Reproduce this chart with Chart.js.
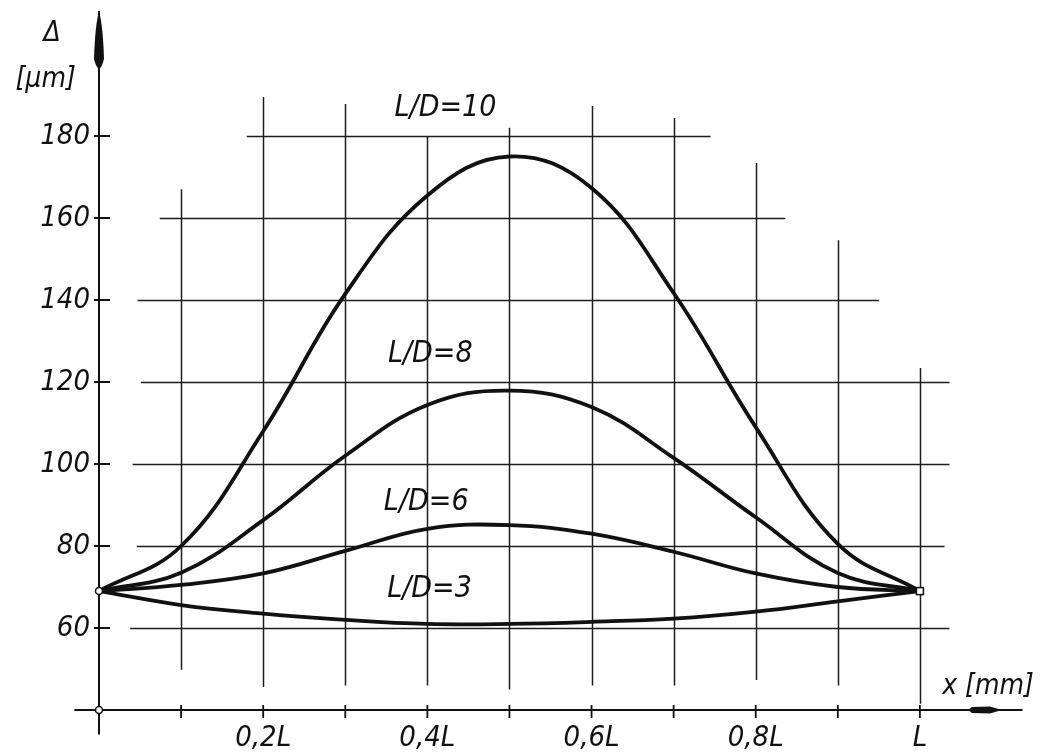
<!DOCTYPE html>
<html>
<head>
<meta charset="utf-8">
<title>Deflection vs position for several L/D</title>
<script src="https://cdn.jsdelivr.net/npm/chart.js@4.4.1/dist/chart.umd.min.js"></script>
<style>
  html, body { margin: 0; padding: 0; background: #fff; }
  canvas { display: block; }
</style>
</head>
<body>
<canvas id="chart" width="1041" height="754"></canvas>
<script>
// positions along the part, in fractions of L
const xPos = [0, 0.1, 0.2, 0.3, 0.4, 0.5, 0.6, 0.7, 0.8, 0.9, 1.0];

// deflection in µm
const ld10 = [69, 80, 108, 141.5, 165.5, 175, 167.3, 141.7, 109, 80.5, 69];
const ld8  = [69, 73.5, 86.3, 102, 114.4, 117.9, 113.9, 101.5, 87, 73.4, 69];
const ld6  = [69, 70.5, 73.3, 78.8, 84.2, 85.1, 83, 78.6, 73.3, 70, 69];
const ld3  = [69, 65.6, 63.5, 62, 61, 61, 61.5, 62.3, 64, 66.5, 69];

const seriesNames = ['L/D=10', 'L/D=8', 'L/D=6', 'L/D=3'];
const yTickValues = [60, 80, 100, 120, 140, 160, 180];
const xTickLabels = ['', '', '0,2L', '', '0,4L', '', '0,6L', '', '0,8L', '', 'L'];

const FONT = '"DejaVu Sans Condensed", "DejaVu Sans", sans-serif';
const INK = '#111';

function toPoints(vals) {
  return xPos.map((x, i) => ({ x: x, y: vals[i] }));
}

// hand drawn grid: each line only runs part of the way
const hGrid = [
  { at: 180, from: 0.18, to: 0.745 },
  { at: 160, from: 0.074, to: 0.836 },
  { at: 140, from: 0.047, to: 0.95 },
  { at: 120, from: 0.051, to: 1.036 },
  { at: 100, from: 0.041, to: 1.036 },
  { at: 80, from: 0.046, to: 1.03 },
  { at: 60, from: 0.038, to: 1.036 }
];
const vGrid = [
  { at: 0.1, from: 49.8, to: 167 },
  { at: 0.2, from: 45.6, to: 189.5 },
  { at: 0.3, from: 46, to: 187.8 },
  { at: 0.4, from: 46, to: 180 },
  { at: 0.5, from: 45, to: 182 },
  { at: 0.6, from: 46, to: 187.3 },
  { at: 0.7, from: 46, to: 184.4 },
  { at: 0.8, from: 47.3, to: 173.4 },
  { at: 0.9, from: 46, to: 154.6 },
  { at: 1.0, from: 41.5, to: 123.4 }
];

const sketch = {
  id: 'sketch',
  beforeDatasetsDraw(chart) {
    const { ctx, scales: { x, y } } = chart;
    ctx.save();
    ctx.strokeStyle = '#1c1c1c';
    ctx.lineWidth = 1.5;
    hGrid.forEach(g => {
      const py = Math.round(y.getPixelForValue(g.at)) + 0.5;
      ctx.beginPath();
      ctx.moveTo(x.getPixelForValue(g.from), py);
      ctx.lineTo(x.getPixelForValue(g.to), py);
      ctx.stroke();
    });
    vGrid.forEach(g => {
      const px = Math.round(x.getPixelForValue(g.at)) + 0.5;
      ctx.beginPath();
      ctx.moveTo(px, y.getPixelForValue(g.from));
      ctx.lineTo(px, y.getPixelForValue(g.to));
      ctx.stroke();
    });
    ctx.restore();
  },
  afterDraw(chart) {
    const { ctx, scales: { x, y } } = chart;
    const x0 = x.getPixelForValue(0);
    const y0 = y.getPixelForValue(40);
    ctx.save();
    ctx.strokeStyle = INK;
    ctx.fillStyle = INK;

    // axes
    ctx.lineWidth = 2;
    ctx.beginPath();
    ctx.moveTo(x0, y.getPixelForValue(34));
    ctx.lineTo(x0, y.getPixelForValue(210.5));
    ctx.moveTo(x.getPixelForValue(-0.03), y0);
    ctx.lineTo(x.getPixelForValue(1.125), y0);
    ctx.stroke();

    // arrow heads (long thin spindles, like the drawing)
    const yTop = y.getPixelForValue(210.5);
    ctx.beginPath();
    ctx.moveTo(x0, yTop);
    ctx.quadraticCurveTo(x0 + 4, yTop + 15, x0 + 5, yTop + 48);
    ctx.quadraticCurveTo(x0 + 3, yTop + 56, x0, yTop + 58);
    ctx.quadraticCurveTo(x0 - 3, yTop + 56, x0 - 5, yTop + 48);
    ctx.quadraticCurveTo(x0 - 4, yTop + 15, x0, yTop);
    ctx.fill();
    const xEnd = x.getPixelForValue(1.1);
    ctx.beginPath();
    ctx.moveTo(xEnd, y0);
    ctx.lineTo(xEnd - 12, y0 - 3.5);
    ctx.lineTo(xEnd - 30, y0 - 3);
    ctx.lineTo(xEnd - 34, y0);
    ctx.lineTo(xEnd - 30, y0 + 3);
    ctx.lineTo(xEnd - 12, y0 + 3.5);
    ctx.closePath();
    ctx.fill();

    // tick marks crossing the axes
    ctx.lineWidth = 1.8;
    ctx.beginPath();
    yTickValues.forEach(v => {
      const py = y.getPixelForValue(v);
      ctx.moveTo(x0 - 5, py);
      ctx.lineTo(x0 + 11, py);
    });
    xPos.slice(1).forEach(v => {
      const px = x.getPixelForValue(v);
      ctx.moveTo(px, y0 - 5);
      ctx.lineTo(px, y0 + 8);
    });
    ctx.stroke();

    // start / end markers
    ctx.lineWidth = 1.5;
    ctx.fillStyle = '#fff';
    [[0, 69], [0, 40]].forEach(([vx, vy]) => {
      ctx.beginPath();
      ctx.arc(x.getPixelForValue(vx), y.getPixelForValue(vy), 3.5, 0, Math.PI * 2);
      ctx.fill();
      ctx.stroke();
    });
    const ex = x.getPixelForValue(1), ey = y.getPixelForValue(69);
    ctx.fillRect(ex - 3.5, ey - 3.5, 7, 7);
    ctx.strokeRect(ex - 3.5, ey - 3.5, 7, 7);

    // curve labels and axis titles
    ctx.fillStyle = INK;
    ctx.textBaseline = 'middle';
    ctx.textAlign = 'left';
    ctx.font = 'italic 30px ' + FONT;
    const labelAt = [[0.36, 186.7], [0.352, 126.8], [0.347, 90.8], [0.351, 69.5]];
    seriesNames.forEach((name, i) => {
      ctx.fillText(name, x.getPixelForValue(labelAt[i][0]), y.getPixelForValue(labelAt[i][1]));
    });
    ctx.textAlign = 'center';
    ctx.font = 'italic 28px ' + FONT;
    ctx.fillText('Δ', x.getPixelForValue(-0.057), y.getPixelForValue(205));
    ctx.fillText('[μm]', x.getPixelForValue(-0.065), y.getPixelForValue(193.7));
    ctx.fillText('x [mm]', x.getPixelForValue(1.083), y.getPixelForValue(45.6));
    ctx.restore();
  }
};

const curveStyle = {
  borderColor: INK,
  borderWidth: 3.8,
  pointRadius: 0,
  fill: false,
  tension: 0.4
};

new Chart(document.getElementById('chart'), {
  type: 'line',
  data: {
    datasets: [
      { label: seriesNames[0], data: toPoints(ld10), ...curveStyle },
      { label: seriesNames[1], data: toPoints(ld8), ...curveStyle },
      { label: seriesNames[2], data: toPoints(ld6), ...curveStyle },
      { label: seriesNames[3], data: toPoints(ld3), ...curveStyle }
    ]
  },
  options: {
    responsive: false,
    animation: false,
    layout: { padding: { left: 0, top: 54, right: 39, bottom: 0 } },
    plugins: { legend: { display: false }, tooltip: { enabled: false } },
    scales: {
      x: {
        type: 'linear',
        min: 0,
        max: 1.1,
        grid: { display: false, drawTicks: false },
        border: { display: false },
        afterFit(scale) { scale.height = 44; },
        ticks: {
          stepSize: 0.1,
          autoSkip: false,
          maxRotation: 0,
          padding: 11,
          color: INK,
          font: { family: FONT, size: 29, style: 'italic' },
          callback: v => xTickLabels[Math.round(v * 10)] || ''
        }
      },
      y: {
        min: 40,
        max: 200,
        grid: { display: false, drawTicks: false },
        border: { display: false },
        afterFit(scale) { scale.width = 99; },
        ticks: {
          stepSize: 20,
          padding: 9,
          color: INK,
          font: { family: FONT, size: 29, style: 'italic' },
          callback: v => yTickValues.includes(Math.round(v)) ? Math.round(v) : ''
        }
      }
    }
  },
  plugins: [sketch]
});
</script>
</body>
</html>
